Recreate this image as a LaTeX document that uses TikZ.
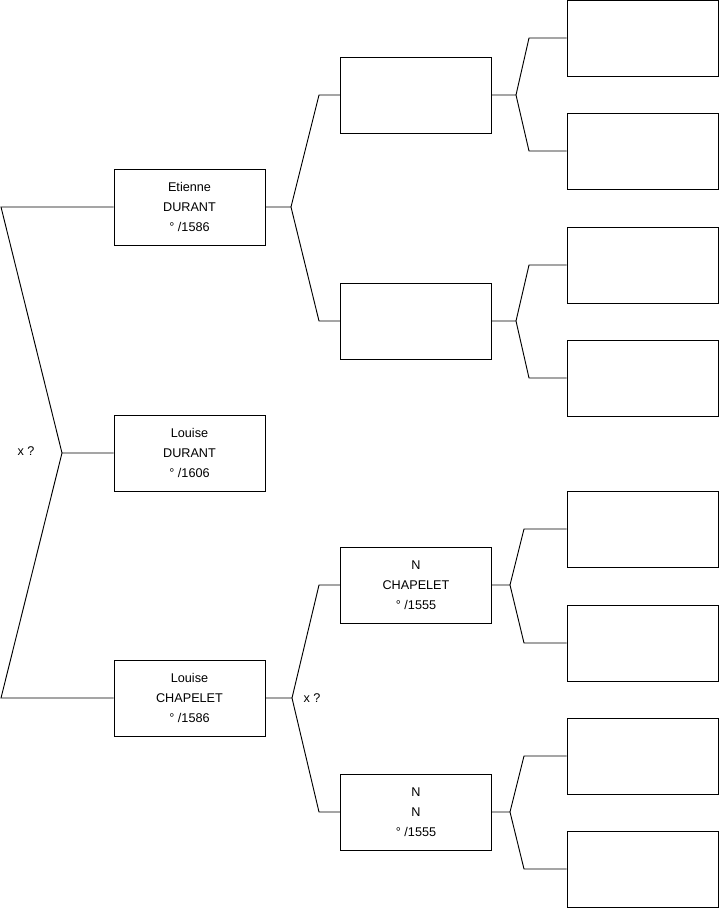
\documentclass[tikz,border=0pt]{standalone}
\usepackage{fontspec}
\setmainfont{Liberation Sans}
\usetikzlibrary{positioning}

\begin{document}
\begin{tikzpicture}[x=0.3mm,y=-0.3mm,
box/.style={rectangle,draw,line width=0.8pt,align=center,minimum width=45.3mm,minimum height=22.8mm,inner sep=0pt,font=\fontsize{10.8}{17}\selectfont},
link/.style={line width=0.8pt},
tag/.style={font=\fontsize{10.8}{12}\selectfont}]
\useasboundingbox (0,0) rectangle (719,908);
% first generation
\node[box](etienne) at (189.5,207){Etienne\\DURANT\\° /1586};
\node[box](louise) at (189.5,453){Louise\\DURANT\\° /1606};
\node[box](chapelet) at (189.5,698){Louise\\CHAPELET\\° /1586};
% second generation
\node[box](f1) at (416,95){};
\node[box](m1) at (416,321){};
\node[box](f2) at (416,585){N\\CHAPELET\\° /1555};
\node[box](m2) at (416,812){N\\N\\° /1555};
% third generation
\foreach \y [count=\i] in {38,151,265,378,529,643,756,869}
  \node[box](g\i) at (642.5,\y){};
\node[tag](x1) at (26,451){x ?};
\node[tag](x2) at (312,698){x ?};
% links
\coordinate (r) at (62,453);
\coordinate (re) at (1,207);
\coordinate (rc) at (1,698);
\draw[link](louise.west)--(r)--(re)--(etienne.west);
\draw[link](r)--(rc)--(chapelet.west);
\coordinate (a1) at (291,207);
\draw[link](etienne.east)--(a1)--(319,95)--(f1.west);
\draw[link](a1)--(319,321)--(m1.west);
\coordinate (a2) at (292,698);
\draw[link](chapelet.east)--(a2)--(319,585)--(f2.west);
\draw[link](a2)--(319,812)--(m2.west);
\foreach \p/\ax/\kx/\u/\d in {f1/516/529/1/2,m1/516/529/3/4,f2/510/524/5/6,m2/510/524/7/8}{
  \coordinate (ap\p) at (\ax,0 |- \p.east);
  \draw[link](\p.east)--(ap\p)--(\kx,0 |- g\u.west)--(g\u.west);
  \draw[link](ap\p)--(\kx,0 |- g\d.west)--(g\d.west);
}
\end{tikzpicture}
\end{document}
